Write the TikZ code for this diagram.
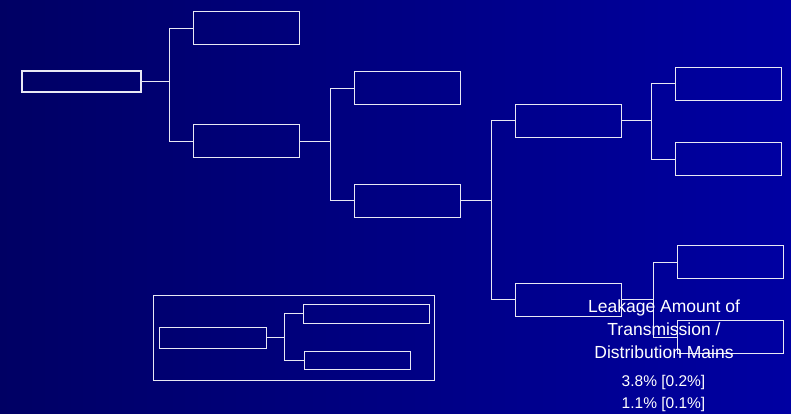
\documentclass[tikz,border=0pt]{standalone}
\usepackage{fontspec}
\setmainfont{Liberation Sans}
\usepackage{tikz}
\definecolor{NavyDark}{HTML}{000064}
\definecolor{NavyLight}{HTML}{0000A2}
\definecolor{LineWhite}{HTML}{E8E8F4}

\begin{document}
\begin{tikzpicture}[x=1pt, y=-1pt,
  box/.style={draw=LineWhite, line width=0.9pt, minimum width=106pt,
              minimum height=33pt, inner sep=0pt},
  link/.style={draw=LineWhite, line width=0.9pt},
  note/.style={text=white, align=center, inner sep=0pt}
]
  \shade[left color=NavyDark, right color=NavyLight] (0,0) rectangle (791,414);

  % tree
  \node[box, line width=1.6pt, minimum width=119pt, minimum height=21pt] (root) at (81.5,81.5) {};
  \node[box] (a1) at (246,28)    {};
  \node[box] (a2) at (246,141)   {};
  \node[box] (b1) at (407,88)    {};
  \node[box] (b2) at (407,200.5) {};
  \node[box] (c1) at (568.5,120.5) {};
  \node[box] (c2) at (568.5,299.5) {};
  \node[box] (d1) at (728,83.5)  {};
  \node[box] (d2) at (728,159)   {};
  \node[box] (e1) at (730.5,262) {};
  \node[box] (e2) at (730.5,337) {};

  \draw[link] (root.east) -- ++(28,0) |- (a1.west);
  \draw[link] (root.east) -- ++(28,0) |- (a2.west);
  \draw[link] (a2.east) -- ++(31,0) |- (b1.west);
  \draw[link] (a2.east) -- ++(31,0) |- (b2.west);
  \draw[link] (b2.east) -- ++(31,0) |- (c1.west);
  \draw[link] (b2.east) -- ++(31,0) |- (c2.west);
  \draw[link] (c1.east) -- ++(29,0) |- (d1.west);
  \draw[link] (c1.east) -- ++(29,0) |- (d2.west);
  \draw[link] (c2.east) -- ++(31,0) |- (e1.west);
  \draw[link] (c2.east) -- ++(31,0) |- (e2.west);

  % legend
  \node[box, minimum width=281pt, minimum height=85pt] (legend) at (293.5,337.5) {};
  \node[box, minimum width=107pt, minimum height=21pt] (l0) at (212.5,337.5) {};
  \node[box, minimum width=126pt, minimum height=19pt] (l1) at (366,313.5) {};
  \node[box, minimum width=106pt, minimum height=18pt] (l2) at (357,360) {};
  \draw[link] (l0.east) -- ++(18,0) |- (l1.west);
  \draw[link] (l0.east) -- ++(18,0) |- (l2.west);

  % leakage label
  \node[note, font=\fontsize{17.5}{23}\selectfont] (leak) at (664,329)
    {Leakage Amount of\\Transmission /\\Distribution Mains};
  \node[note, font=\fontsize{15.5}{22}\selectfont] (rate) at (663.5,393)
    {3.8\% [0.2\%]\\1.1\% [0.1\%]};
\end{tikzpicture}
\end{document}
